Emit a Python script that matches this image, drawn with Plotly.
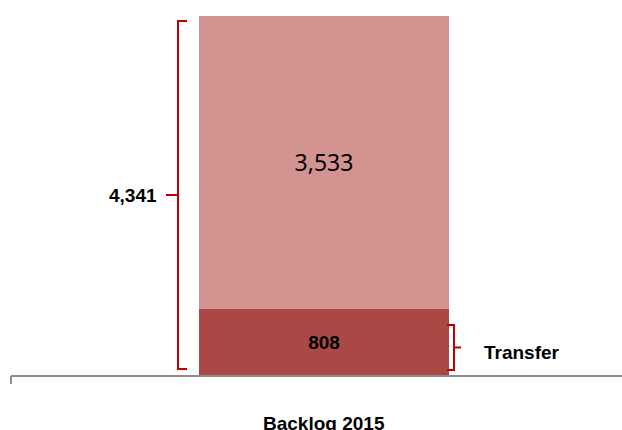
import plotly.graph_objects as go

categories = ["Backlog 2015"]
transfer = [808]
other = [3533]
total_label = "4,341"
brace_right_label = "Transfer"

W, H = 622, 430
PLOT_BOTTOM = 376
BAR_CX = 324
BAR_W_PX = 250
total = transfer[0] + other[0]
ymax = total * PLOT_BOTTOM / 360.0
XL = (11 - BAR_CX) / BAR_W_PX
XR = (622 - BAR_CX) / BAR_W_PX

def px2x(px):
    return (px - BAR_CX) / BAR_W_PX

def py2y(py):
    return (PLOT_BOTTOM - py) / PLOT_BOTTOM * ymax

RED = "#C00000"
BOLD_FONT = "Liberation Sans, Arial"
fig = go.Figure()
fig.add_trace(go.Bar(
    x=[0], y=transfer, width=1, marker=dict(color="#A94845", line=dict(width=0)),
    text=[f"{v:,}" for v in transfer], textposition="inside", insidetextanchor="middle",
    textfont=dict(family=BOLD_FONT, size=19, color="black", weight="bold"),
    hoverinfo="skip"))
fig.add_trace(go.Bar(
    x=[0], y=other, width=1, marker=dict(color="#D39391", line=dict(width=0)),
    text=[f"{v:,}" for v in other], textposition="inside", insidetextanchor="middle",
    textfont=dict(family="Noto Sans, Open Sans", size=23, color="black"),
    hoverinfo="skip"))

def brace(x_vert, x_hook, x_tip, y0, y1):
    ym = (y0 + y1) / 2
    return (f"M {x_hook},{y1} L {x_vert},{y1} L {x_vert},{y0} L {x_hook},{y0} "
            f"M {x_vert},{ym} L {x_tip},{ym}")

# left brace spanning whole bar
lb_top, lb_bot = py2y(21), py2y(369)
fig.add_shape(type="path", xref="x", yref="y",
              path=brace(px2x(178), px2x(187), px2x(166), lb_bot, lb_top),
              line=dict(color=RED, width=2))
# right brace spanning transfer segment
rb_top, rb_bot = py2y(325), py2y(370)
fig.add_shape(type="path", xref="x", yref="y",
              path=brace(px2x(454), px2x(447), px2x(461), rb_bot, rb_top),
              line=dict(color=RED, width=2))

fig.add_annotation(x=px2x(159), y=(lb_top + lb_bot) / 2, xref="x", yref="y",
                   text=f"<b>{total_label}</b>", showarrow=False, xanchor="right",
                   font=dict(family=BOLD_FONT, size=19, color="black"))
fig.add_annotation(x=px2x(482), y=(rb_top + rb_bot) / 2, xref="x", yref="y",
                   text=f"<b>{brace_right_label}</b>", showarrow=False, xanchor="left",
                   yshift=-5,
                   font=dict(family=BOLD_FONT, size=19, color="black"))

# category label
fig.add_annotation(x=0, y=0, xref="x", yref="y", text=f"<b>{categories[0]}</b>",
                   showarrow=False, yanchor="middle", yshift=-47,
                   font=dict(family=BOLD_FONT, size=19, color="black"))

# axis line and left tick
fig.add_shape(type="line", xref="paper", yref="paper", x0=0, x1=1, y0=0, y1=0,
              line=dict(color="#8C8C8C", width=2))
fig.add_shape(type="line", xref="paper", yref="paper", x0=0, x1=0, y0=0,
              y1=-8 / PLOT_BOTTOM, line=dict(color="#8C8C8C", width=2))

fig.update_layout(
    width=W, height=H, barmode="stack", showlegend=False,
    margin=dict(l=11, r=0, t=0, b=H - PLOT_BOTTOM),
    plot_bgcolor="white", paper_bgcolor="white",
    xaxis=dict(range=[XL, XR], showgrid=False, zeroline=False, showticklabels=False,
               showline=False, fixedrange=True),
    yaxis=dict(range=[0, ymax], showgrid=False, zeroline=False, showticklabels=False,
               showline=False, fixedrange=True),
    uniformtext=dict(mode=False),
)
fig.write_html("out.html")
